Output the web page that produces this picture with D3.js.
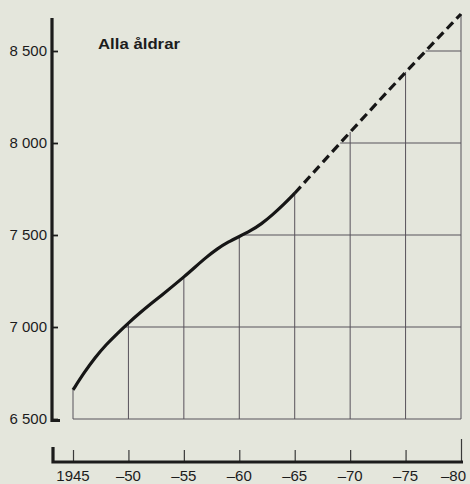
<!DOCTYPE html>
<html><head><meta charset="utf-8">
<script src="https://cdn.jsdelivr.net/npm/d3@7"></script>
<style>
html,body{margin:0;padding:0;background:#e4e6dc;}
svg{display:block;}
text{font-family:"Liberation Sans",Arial,sans-serif;fill:#1c1c1c;}
</style></head>
<body>
<script>
// ---- data (thousands of inhabitants) ----
const years = [1945,1946,1947,1948,1949,1950,1951,1952,1953,1954,1955,1956,1957,1958,1959,1960,1961,1962,1963,1964,1965];
const population = [6658,6752,6835,6905,6965,7022,7075,7125,7173,7222,7272,7325,7378,7425,7462,7492,7522,7560,7610,7665,7727];
const projYears = [1965,1970,1975,1980];
const projection = [7727,8060,8386,8701];
const yTicks = [6500,7000,7500,8000,8500];
const xTicks = [1945,1950,1955,1960,1965,1970,1975,1980];
const xTickLabels = ["1945","\u201350","\u201355","\u201360","\u201365","\u201370","\u201375","\u201380"];
const title = "Alla åldrar";
const yAxisTop = 8680;

const W = 470, H = 484;
const svg = d3.select("body").append("svg").attr("width", W).attr("height", H);
svg.append("rect").attr("width", W).attr("height", H).attr("fill", "#e4e6dc");

const x = d3.scaleLinear().domain([1945, 1980]).range([73, 461]);
const y = d3.scaleLinear().domain([6500, 8500]).range([419, 51]);

const allYears = years.concat(projYears.slice(1));
const allVals = population.concat(projection.slice(1));
const valueAt = yr => {
  for (let i = 0; i < allYears.length - 1; i++) {
    if (yr >= allYears[i] && yr <= allYears[i+1]) {
      const t = (yr - allYears[i]) / (allYears[i+1] - allYears[i]);
      return allVals[i] + t * (allVals[i+1] - allVals[i]);
    }
  }
  return allVals[allVals.length - 1];
};
const yearAt = v => {
  for (let i = 0; i < allVals.length - 1; i++) {
    if (v >= allVals[i] && v <= allVals[i+1]) {
      const t = (v - allVals[i]) / (allVals[i+1] - allVals[i]);
      return allYears[i] + t * (allYears[i+1] - allYears[i]);
    }
  }
  return allYears[0];
};

// ---- grid ----
const grid = svg.append("g").attr("stroke", "#57525a").attr("stroke-width", 1).attr("fill", "none");
xTicks.forEach(yr => {
  grid.append("line").attr("x1", x(yr)).attr("x2", x(yr))
    .attr("y1", y(6500)).attr("y2", y(valueAt(yr)));
});
yTicks.forEach(v => {
  const start = v === 6500 ? 1945 : yearAt(v);
  grid.append("line").attr("x1", x(start)).attr("x2", x(1980))
    .attr("y1", y(v)).attr("y2", y(v));
});

// ---- y axis ----
const fmt = d3.formatLocale({decimal: ",", thousands: " ", grouping: [3], currency: ["", ""]}).format(",");
const yAxis = d3.axisLeft(y).tickValues(yTicks).tickFormat(fmt)
  .tickSizeInner(-6).tickSizeOuter(0).tickPadding(5);
const gy = svg.append("g").attr("transform", "translate(52,0)").call(yAxis);
gy.select(".domain").remove();
gy.selectAll(".tick line").attr("stroke", "#1c1c1c").attr("stroke-width", 1.8);
gy.selectAll(".tick text").attr("font-size", 15).attr("fill", "#1c1c1c")
  .attr("font-family", "Liberation Sans, Arial, sans-serif");
svg.append("path")
  .attr("d", `M52,${y(yAxisTop)} L52,${y(6500) + 1.5} L60,${y(6500) + 1.5}`)
  .attr("fill", "none").attr("stroke", "#1c1c1c").attr("stroke-width", 3.2);

// ---- x axis (separate, below) ----
const axisY = 462;
const xAxis = d3.axisTop(x).tickValues(xTicks).tickFormat("").tickSizeInner(12).tickSizeOuter(0);
const gx = svg.append("g").attr("transform", `translate(0,${axisY})`).call(xAxis);
gx.select(".domain").remove();
gx.selectAll(".tick line").attr("stroke", "#3a3a3a").attr("stroke-width", 1.2)
  .attr("y2", (d) => d === 1980 ? -23 : -12);
svg.append("path")
  .attr("d", `M53,${axisY - 15} L53,${axisY} L${x(1980) + 2},${axisY}`)
  .attr("fill", "none").attr("stroke", "#1c1c1c").attr("stroke-width", 3.2);
svg.append("g").selectAll("text").data(xTicks).join("text")
  .attr("x", (d, i) => i === xTicks.length - 1 ? x(d) + 5 : x(d))
  .attr("y", 481)
  .attr("text-anchor", (d, i) => i === xTicks.length - 1 ? "end" : "middle")
  .attr("font-size", 15)
  .text((d, i) => xTickLabels[i]);

// ---- curves ----
const line = d3.line().x(d => x(d[0])).y(d => y(d[1])).curve(d3.curveBasis);
svg.append("path").datum(years.map((yr, i) => [yr, population[i]]))
  .attr("d", line).attr("fill", "none").attr("stroke", "#161616")
  .attr("stroke-width", 3.2).attr("stroke-linecap", "butt");
svg.append("path").datum(projYears.map((yr, i) => [yr, projection[i]]))
  .attr("d", line).attr("fill", "none").attr("stroke", "#161616")
  .attr("stroke-width", 3.2).attr("stroke-dasharray", "9,5");

// ---- title ----
svg.append("text").attr("x", 98).attr("y", 49).attr("font-size", 15)
  .attr("font-weight", "bold").attr("font-family", "DejaVu Sans, sans-serif")
  .attr("textLength", 82).attr("lengthAdjust", "spacingAndGlyphs")
  .text(title);
</script>
</body></html>
